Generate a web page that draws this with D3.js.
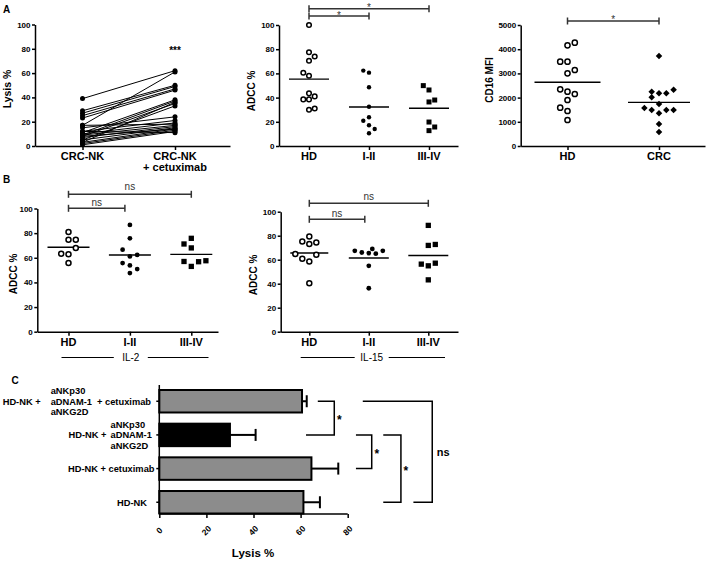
<!DOCTYPE html>
<html><head><meta charset="utf-8">
<script src="https://cdn.jsdelivr.net/npm/d3@7"></script>
<style>body{margin:0;background:#fff}svg{display:block}</style>
</head><body><svg id="c" width="708" height="562"></svg>
<script>
// ---------------- DATA ----------------
// Panel A (left): paired lysis %
const pairCats = ["CRC-NK", "CRC-NK + cetuximab"];
const lysisPre  = [39, 17, 29, 27, 25, 23, 11, 9, 8, 5, 3, 17, 15, 12, 10, 9, 7, 5, 3, 2, 1, 12, 8];
const lysisPost = [62, 61, 50, 49, 47, 46, 38, 37, 35, 33, 36, 18, 24, 21, 19, 17, 16, 15, 14, 13, 12, 11, 14];

// Panel A (middle): ADCC % by stage
const stageCats = ["HD", "I-II", "III-IV"];
const adccHD     = [100, 77.5, 74, 70.5, 60.5, 58, 43.5, 41, 38.5, 38.5, 31, 30];
const adccHDSlot = [0, 0, 1, 0, -1, 0, 0, 1, -1, 0, 1, 0];
const adccE      = [62.3, 60.6, 48.5, 32.5, 23.7, 20.9, 17.1, 14, 10.5];
const adccESlot  = [-1, 0, 0, 0, 0, -1, 0, 1, 0];
const adccL      = [49.9, 46.3, 36.4, 38, 19.8, 15.7, 12.7];
const adccLSlot  = [-1, 0, 0, 1, 0, 1, 0];

// Panel A (right): CD16 MFI
const mfiCats = ["HD", "CRC"];
const mfiHD      = [4160, 4270, 3484, 3484, 3140, 3003, 2342, 2245, 2149, 1900, 1583, 1446, 1074];
const mfiHDSlot  = [0, 1, -1, 0, 1, 0, -1, 0, 1, 0, -1, 0, 0];
const mfiCRC     = [3719, 2245, 2176, 2176, 2328, 2011, 1736, 1570, 1488, 1350, 1488, 1488, 909, 579];
const mfiCRCSlot = [0, -1, 0, 1, 2, -1, 0, -2, -1, 0, 1, 2, 0, 0];

// Panel B (left): ADCC % with IL-2
const il2HD     = [81, 74.7, 74.7, 68, 63.3, 62.8, 55.7];
const il2HDSlot = [0, 0, 1, 1, -1, 0, 0];
const il2E      = [86.7, 75.8, 66.6, 61.1, 62.3, 55.7, 53.8, 50.8, 47.6];
const il2ESlot  = [0, 0, -1, 0, 1, -1, 0, 1, 0];
const il2L      = [71.2, 75.8, 68, 57, 53, 56.8, 57.6];
const il2LSlot  = [-1, 0, 0, -1, 0, 1, 2];

// Panel B (right): ADCC % with IL-15
const il15HD     = [79.4, 75.2, 73, 74.4, 64.7, 64.1, 60.7, 58.5, 40.4];
const il15HDSlot = [0, -1, 0, 1, -2, 1, -1, 0, 0];
const il15E      = [67.4, 66, 65.5, 69, 65, 67.4, 54.9, 36.2];
const il15ESlot  = [-2, -1, 0, 0.5, 1, 2, 0, 0];
const il15L      = [88.6, 71.9, 72.7, 56.3, 54.9, 57.1, 43.2];
const il15LSlot  = [0, 0, 1, -1, 0, 1, 0];

const adccTicks = [0, 20, 40, 60, 80, 100];
const mfiTicks = [0, 1000, 2000, 3000, 4000, 5000];

// Panel C: lysis % bars
const condLabels = ["c1", "c2", "c3", "c4"];
const condMean = [60.6, 30.0, 64.6, 61.2];
const condErr  = [2.0, 10.9, 11.4, 7.0];
const lysisTicksC = [0, 20, 40, 60, 80];

// ---------------- DRAWING ----------------
const F = '"Liberation Sans", Arial, Helvetica, sans-serif';
const svg = d3.select("#c");
svg.append("rect").attr("width", 708).attr("height", 562).attr("fill", "#fff");

function pointScale(domain, a0, a1, first, last) {
  const n = domain.length, step = (last - first) / (n - 1), L = a1 - a0;
  const padding = (L / step - (n - 1)) / 2;
  const align = (first - a0) / (L - step * (n - 1));
  return d3.scalePoint().domain(domain).range([a0, a1]).padding(padding).align(align);
}
function styleAxis(g, fs) {
  g.selectAll("path.domain").attr("stroke", "#000").attr("stroke-width", 1.5);
  g.selectAll(".tick line").attr("stroke", "#000").attr("stroke-width", 1.5);
  g.selectAll(".tick text").attr("font-size", fs).attr("font-weight", "bold")
    .attr("fill", "#000").attr("font-family", F);
}
function txt(x, y, s, o = {}) {
  const t = svg.append("text").attr("x", x).attr("y", y).text(s)
    .attr("font-family", F).attr("font-size", o.size || 10)
    .attr("font-weight", o.weight || "bold").attr("fill", o.fill || "#000")
    .attr("text-anchor", o.anchor || "middle");
  if (o.rotate) t.attr("transform", `rotate(${o.rotate},${x},${y})`);
  return t;
}
function yAxis(y, x0, ticks, fmt) {
  const g = svg.append("g").attr("transform", `translate(${x0},0)`)
    .call(d3.axisLeft(y).tickValues(ticks).tickSize(3).tickPadding(1.5).tickSizeOuter(0).tickFormat(fmt || d3.format("d")));
  styleAxis(g, 8);
}
function xAxis(x, y0, labelY) {
  const g = svg.append("g").attr("transform", `translate(0,${y0})`)
    .call(d3.axisBottom(x).tickSize(4).tickSizeOuter(0).tickFormat(""));
  styleAxis(g, 8);
  x.domain().forEach(c => {
    const parts = c.split(" + ");
    parts.forEach((p, i) => txt(x(c), labelY + i * 11, i ? "+ " + p : p, { size: 11 }));
  });
}
function points(x, y, cat, vals, slots, shape, sp, size) {
  vals.forEach((v, i) => {
    const cx = x(cat) + slots[i] * sp, cy = y(v);
    if (shape === "open") {
      svg.append("circle").attr("cx", cx).attr("cy", cy).attr("r", size)
        .attr("fill", "#fff").attr("stroke", "#000").attr("stroke-width", 1.5);
    } else if (shape === "dot") {
      svg.append("circle").attr("cx", cx).attr("cy", cy).attr("r", size).attr("fill", "#000");
    } else if (shape === "square") {
      svg.append("rect").attr("x", cx - size / 2).attr("y", cy - size / 2)
        .attr("width", size).attr("height", size).attr("fill", "#000");
    } else if (shape === "diamond") {
      svg.append("path").attr("d", d3.symbol(d3.symbolSquare, size * size)())
        .attr("transform", `translate(${cx},${cy}) rotate(45)`).attr("fill", "#000");
    }
  });
}
function meanLine(x, y, cat, vals, hw) {
  const m = d3.mean(vals);
  svg.append("line").attr("x1", x(cat) - hw).attr("x2", x(cat) + hw)
    .attr("y1", y(m)).attr("y2", y(m)).attr("stroke", "#000").attr("stroke-width", 1.4);
}
function sigBar(x1, x2, yy, label, ly, lx) {
  const g = svg.append("g").attr("stroke", "#333").attr("stroke-width", 1.5);
  g.append("line").attr("x1", x1).attr("x2", x2).attr("y1", yy).attr("y2", yy);
  g.append("line").attr("x1", x1).attr("x2", x1).attr("y1", yy - 3.5).attr("y2", yy + 3.5);
  g.append("line").attr("x1", x2).attr("x2", x2).attr("y1", yy - 3.5).attr("y2", yy + 3.5);
  txt(lx != null ? lx : (x1 + x2) / 2, ly, label, { size: 10, weight: "normal", fill: "#333" });
}

// Panel letters
txt(3, 12.5, "A", { anchor: "start", size: 10 });
txt(3, 183, "B", { anchor: "start", size: 10 });
txt(11.5, 383.5, "C", { anchor: "start", size: 10 });

// ---- A1 ----
{
  const y = d3.scaleLinear().domain([0, 100]).range([146, 24.5]);
  const x = pointScale(pairCats, 35, 230, 82.5, 175);
  lysisPre.forEach((v, i) => {
    svg.append("line").attr("x1", x(pairCats[0])).attr("y1", y(v))
      .attr("x2", x(pairCats[1])).attr("y2", y(lysisPost[i]))
      .attr("stroke", "#000").attr("stroke-width", 1);
  });
  lysisPre.forEach(v => svg.append("circle").attr("cx", x(pairCats[0])).attr("cy", y(v)).attr("r", 2.5));
  lysisPost.forEach(v => svg.append("circle").attr("cx", x(pairCats[1])).attr("cy", y(v)).attr("r", 2.5));
  yAxis(y, 35, adccTicks);
  xAxis(x, 146, 160);
  txt(x(pairCats[1]), 53.5, "***", { size: 10 });
  txt(10.5, 89, "Lysis %", { size: 10.5, rotate: -90 });
}

// ---- A2 ----
{
  const y = d3.scaleLinear().domain([0, 100]).range([146, 25]);
  const x = pointScale(stageCats, 279, 458, 309, 429);
  yAxis(y, 279, adccTicks);
  xAxis(x, 146, 160);
  meanLine(x, y, "HD", adccHD, 20);
  meanLine(x, y, "I-II", adccE, 20);
  meanLine(x, y, "III-IV", adccL, 20);
  points(x, y, "HD", adccHD, adccHDSlot, "open", 5.7, 2.3);
  points(x, y, "I-II", adccE, adccESlot, "dot", 5.7, 2.2);
  points(x, y, "III-IV", adccL, adccLSlot, "square", 5.7, 5);
  sigBar(x("HD"), x("III-IV"), 8.7, "*", 10.5);
  sigBar(x("HD"), x("I-II"), 16, "*", 18.5);
  txt(255, 91, "ADCC %", { size: 10, rotate: -90 });
}

// ---- A3 ----
{
  const y = d3.scaleLinear().domain([0, 5000]).range([146, 25]);
  const x = pointScale(mfiCats, 520.7, 705, 567.5, 659);
  yAxis(y, 520.7, mfiTicks);
  xAxis(x, 146, 160);
  meanLine(x, y, "HD", mfiHD, 33);
  meanLine(x, y, "CRC", mfiCRC, 31);
  points(x, y, "HD", mfiHD, mfiHDSlot, "open", 7.3, 2.6);
  points(x, y, "CRC", mfiCRC, mfiCRCSlot, "diamond", 7.3, 4.6);
  sigBar(x("HD"), x("CRC"), 21, "*", 22.8);
  txt(493, 80, "CD16 MFI", { size: 10, rotate: -90 });
}

// ---- B1 (IL-2) ----
{
  const y = d3.scaleLinear().domain([0, 100]).range([331.7, 208.5]);
  const x = pointScale(stageCats, 37.3, 218, 68.5, 191.3);
  yAxis(y, 37.3, adccTicks);
  xAxis(x, 331.7, 346);
  meanLine(x, y, "HD", il2HD, 21);
  meanLine(x, y, "I-II", il2E, 21);
  meanLine(x, y, "III-IV", il2L, 21);
  points(x, y, "HD", il2HD, il2HDSlot, "open", 7.3, 2.5);
  points(x, y, "I-II", il2E, il2ESlot, "dot", 7.3, 2.4);
  points(x, y, "III-IV", il2L, il2LSlot, "square", 7.3, 5.3);
  sigBar(x("HD"), x("III-IV"), 194.3, "ns", 190);
  sigBar(x("HD"), x("I-II") - 5, 208.3, "ns", 205.5);
  txt(16.5, 274, "ADCC %", { size: 10, rotate: -90 });
  const lx0 = 61.5, lx1 = 208.5, cy = 357.5, mid = 130.8;
  svg.append("line").attr("x1", lx0).attr("x2", mid - 17).attr("y1", cy).attr("y2", cy).attr("stroke", "#000").attr("stroke-width", 1);
  svg.append("line").attr("x1", mid + 17).attr("x2", lx1).attr("y1", cy).attr("y2", cy).attr("stroke", "#000").attr("stroke-width", 1);
  txt(mid, 361, "IL-2", { size: 10, weight: "normal" });
}

// ---- B2 (IL-15) ----
{
  const y = d3.scaleLinear().domain([0, 100]).range([331.7, 211.7]);
  const x = pointScale(stageCats, 280.7, 458, 309.3, 428.3);
  yAxis(y, 280.7, adccTicks);
  xAxis(x, 331.7, 345.5);
  meanLine(x, y, "HD", il15HD, 19);
  meanLine(x, y, "I-II", il15E, 20);
  meanLine(x, y, "III-IV", il15L, 20);
  points(x, y, "HD", il15HD, il15HDSlot, "open", 7, 2.5);
  points(x, y, "I-II", il15E, il15ESlot, "dot", 7, 2.4);
  points(x, y, "III-IV", il15L, il15LSlot, "square", 7, 5.3);
  sigBar(x("HD"), x("III-IV"), 203.3, "ns", 199.5);
  sigBar(x("HD"), x("I-II") - 4, 219.3, "ns", 216.5);
  txt(256.5, 275, "ADCC %", { size: 10, rotate: -90 });
  const lx0 = 300.7, lx1 = 445, cy = 357.5, mid = 371.7;
  svg.append("line").attr("x1", lx0).attr("x2", mid - 17).attr("y1", cy).attr("y2", cy).attr("stroke", "#000").attr("stroke-width", 1);
  svg.append("line").attr("x1", mid + 17).attr("x2", lx1).attr("y1", cy).attr("y2", cy).attr("stroke", "#000").attr("stroke-width", 1);
  txt(mid, 361, "IL-15", { size: 10, weight: "normal" });
}

// ---- C ----
{
  const x = d3.scaleLinear().domain([0, 80]).range([159.3, 347.7]);
  const y = d3.scaleBand().domain(condLabels).range([390, 513.5]).paddingInner(0.332).paddingOuter(0);
  const bw = y.bandwidth();
  condLabels.forEach((c, i) => {
    svg.append("rect").attr("x", x(0)).attr("y", y(c)).attr("width", x(condMean[i]) - x(0))
      .attr("height", bw).attr("fill", i === 1 ? "#000" : "#8c8c8c")
      .attr("stroke", "#000").attr("stroke-width", 2);
    const cy = y(c) + bw / 2, xe = x(condMean[i] + condErr[i]);
    svg.append("line").attr("x1", x(condMean[i])).attr("x2", xe).attr("y1", cy).attr("y2", cy)
      .attr("stroke", "#000").attr("stroke-width", 2);
    svg.append("line").attr("x1", xe).attr("x2", xe).attr("y1", cy - 6).attr("y2", cy + 6)
      .attr("stroke", "#000").attr("stroke-width", 2);
  });
  // axes
  const gy = svg.append("g").attr("transform", `translate(${x(0)},0)`)
    .call(d3.axisLeft(y).tickSize(3).tickSizeOuter(0).tickFormat(""));
  styleAxis(gy, 8);
  gy.select("path.domain").attr("d", "M0,385V514");
  const gx = svg.append("g").attr("transform", "translate(0,514)")
    .call(d3.axisBottom(x).tickValues(lysisTicksC).tickSize(4).tickSizeOuter(0));
  styleAxis(gx, 8.5);
  gx.select("path.domain").attr("d", `M${x(0)},0H${x(80)}`);
  gx.selectAll(".tick text").attr("text-anchor", "middle").attr("y", 0).attr("dy", 0)
    .attr("transform", "translate(0,531) rotate(-45)").attr("dominant-baseline", "middle")
    .each(function () { d3.select(this).attr("transform", "translate(0,17) rotate(-45)"); });
  txt(253, 557, "Lysis %", { size: 11.5 });

  // category labels
  const c0 = y("c1") + bw / 2, c1 = y("c2") + bw / 2, c2 = y("c3") + bw / 2, c3 = y("c4") + bw / 2;
  const fs = 9.3, lh = 10.7;
  txt(2.7, c0 + 3.3, "HD-NK +", { anchor: "start", size: fs });
  ["aNKp30", "aDNAM-1", "aNKG2D"].forEach((s, i) => txt(50.7, c0 + 3.3 + (i - 1) * lh, s, { anchor: "start", size: fs }));
  txt(151, c0 + 3.3, "+ cetuximab", { anchor: "end", size: fs });
  txt(106.5, c1 + 3.3, "HD-NK +", { anchor: "end", size: fs });
  ["aNKp30", "aDNAM-1", "aNKG2D"].forEach((s, i) => txt(110.5, c1 + 3.3 + (i - 1) * lh, s, { anchor: "start", size: fs }));
  txt(154.5, c2 + 3.3, "HD-NK + cetuximab", { anchor: "end", size: fs });
  txt(147, c3 + 3.3, "HD-NK", { anchor: "end", size: fs });

  // significance brackets (x in lysis units)
  const brackets = [
    { a: "c1", b: "c2", xa: 67.3, xb: 62.3, v: 74.3, label: "*" },
    { a: "c2", b: "c3", xa: 83.5, xb: 83.5, v: 90.2, label: "*" },
    { a: "c2", b: "c4", xa: 95.1, xb: 95.1, v: 102.6, label: "*" },
    { a: "c1", b: "c4", xa: 86.4, xb: 107.9, v: 115.9, label: "ns" }
  ];
  brackets.forEach(br => {
    const ya = y(br.a) + bw / 2, yb = y(br.b) + bw / 2;
    const p = d3.path();
    p.moveTo(x(br.xa), ya); p.lineTo(x(br.v), ya); p.lineTo(x(br.v), yb); p.lineTo(x(br.xb), yb);
    svg.append("path").attr("d", p.toString()).attr("fill", "none").attr("stroke", "#000").attr("stroke-width", 1.5);
    const my = (ya + yb) / 2;
    if (br.label === "ns") txt(x(br.v) + 11, my + 4, "ns", { size: 11 });
    else txt(x(br.v) + 5, my + 6, "*", { size: 12 });
  });
}
</script></body></html>
